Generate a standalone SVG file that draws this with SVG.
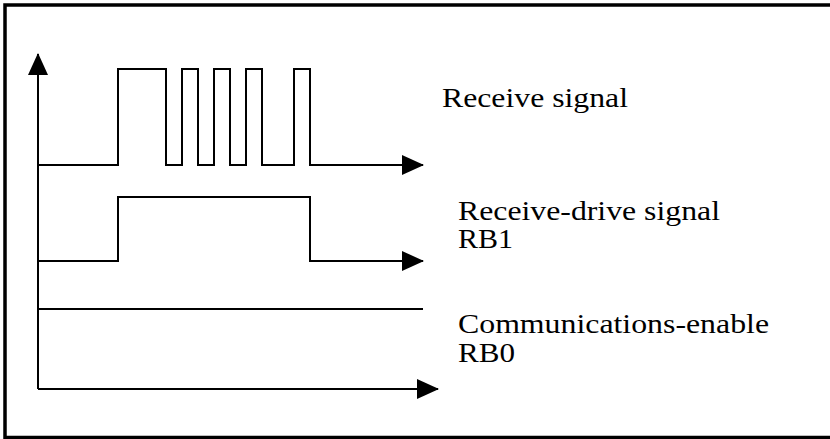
<svg xmlns="http://www.w3.org/2000/svg" width="830" height="439" viewBox="0 0 830 439">
<defs>
<style>
.ln{fill:none;stroke:#000;stroke-width:2}
.frame{fill:none;stroke:#000;stroke-width:3.5}
.t{font-family:'Liberation Serif','Times New Roman',serif;font-size:27px;fill:#000}
</style>
<marker id="ah" markerUnits="userSpaceOnUse" markerWidth="22" markerHeight="22" refX="21" refY="10" orient="auto" viewBox="0 0 22 20">
<path d="M0,0 L22,10 L0,20 Z" fill="#000"/>
</marker>
</defs>
<rect width="830" height="439" fill="#fff"/>
<path class="frame" d="M840,5 H5 V437.5 H840"/>
<g id="connectors">
<line class="ln" x1="38" y1="389" x2="38" y2="54" marker-end="url(#ah)"/>
<line class="ln" x1="38" y1="389" x2="438" y2="389" marker-end="url(#ah)"/>
</g>
<g id="receive-signal">
<polyline class="ln" points="38,165 118,165 118,69 166,69 166,165 182,165 182,69 198,69 198,165 214,165 214,69 230,69 230,165 246,165 246,69 262,69 262,165 294,165 294,69 310,69 310,165 423,165" marker-end="url(#ah)"/>
<text class="t" x="442" y="107.3" textLength="186" lengthAdjust="spacingAndGlyphs">Receive signal</text>
</g>
<g id="receive-drive">
<polyline class="ln" points="38,261 118,261 118,197 310,197 310,261 423,261" marker-end="url(#ah)"/>
<text class="t" x="458" y="219.5" textLength="262" lengthAdjust="spacingAndGlyphs">Receive-drive signal</text>
<text class="t" x="458" y="247.5" textLength="55" lengthAdjust="spacingAndGlyphs">RB1</text>
</g>
<g id="comm-enable">
<line class="ln" x1="38" y1="309" x2="423" y2="309"/>
<text class="t" x="458" y="333.3" textLength="311" lengthAdjust="spacingAndGlyphs">Communications-enable</text>
<text class="t" x="458" y="361.7" textLength="57" lengthAdjust="spacingAndGlyphs">RB0</text>
</g>
</svg>
